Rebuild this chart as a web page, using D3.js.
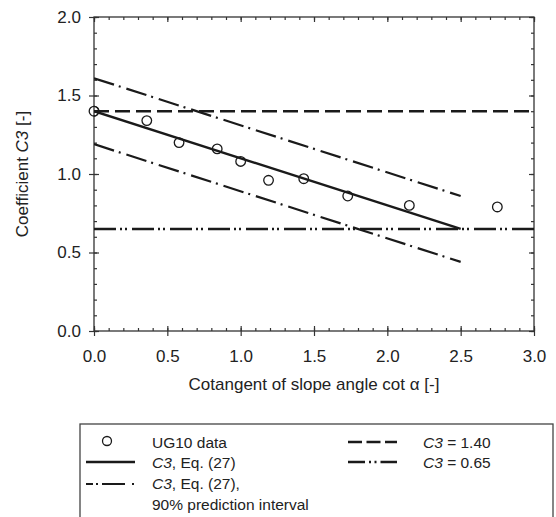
<!DOCTYPE html>
<html>
<head>
<meta charset="utf-8">
<script src="https://cdn.jsdelivr.net/npm/d3@7"></script>
<style>
  html, body { margin: 0; padding: 0; background: #fff; }
  svg { display: block; font-family: "Liberation Sans", Arial, Helvetica, sans-serif; }
</style>
</head>
<body>
<svg id="chart" width="556" height="517"></svg>
<script>
// ---- data ----
const cotAlpha = [0.00, 0.36, 0.58, 0.84, 1.00, 1.19, 1.43, 1.73, 2.15, 2.75];
const c3Data   = [1.40, 1.34, 1.20, 1.16, 1.08, 0.96, 0.97, 0.86, 0.80, 0.79];
const fitX     = [0.0, 2.5];
const fitY     = [1.40, 0.65];
const upperY   = [1.61, 0.86];
const lowerY   = [1.19, 0.44];
const hLineX   = [0.0, 3.0];
const c3Upper  = [1.40, 1.40];
const c3Lower  = [0.65, 0.65];
const xTickVals = [0.0, 0.5, 1.0, 1.5, 2.0, 2.5, 3.0];
const yTickVals = [0.0, 0.5, 1.0, 1.5, 2.0];
const xMinor = d3.range(0, 31).map(d => d / 10);
const yMinor = d3.range(0, 21).map(d => d / 10);

const svg = d3.select("#chart");
const L = 94, R = 534, T = 17, B = 331;
const x = d3.scaleLinear().domain([0, 3]).range([L, R]);
const y = d3.scaleLinear().domain([0, 2]).range([B, T]);
const ink = "#1a1a1a";
const axisInk = "#333";

svg.append("defs").append("clipPath").attr("id", "clip")
  .append("rect").attr("x", L).attr("y", T).attr("width", R - L).attr("height", B - T);

// ---- axes ----
function styleAxis(g) {
  g.select(".domain").remove();
  g.selectAll(".tick line").attr("stroke", axisInk).attr("stroke-width", 1.2);
  g.selectAll(".tick text").attr("fill", "#222").style("font-size", "17px")
    .style("font-family", "'Liberation Sans', Arial, sans-serif");
}
// bottom: minor inward, major both sides
svg.append("g").attr("transform", `translate(0,${B})`)
  .call(d3.axisBottom(x).tickValues(xMinor).tickSizeInner(-3).tickSizeOuter(0).tickFormat(""))
  .call(styleAxis);
svg.append("g").attr("transform", `translate(0,${B})`)
  .call(d3.axisBottom(x).tickValues(xTickVals).tickSizeInner(-5).tickSizeOuter(0).tickFormat(""))
  .call(styleAxis);
svg.append("g").attr("transform", `translate(0,${B})`)
  .call(d3.axisBottom(x).tickValues(xTickVals).tickSizeInner(5).tickSizeOuter(0).tickPadding(14).tickFormat(d3.format(".1f")))
  .call(styleAxis);
// left
svg.append("g").attr("transform", `translate(${L},0)`)
  .call(d3.axisLeft(y).tickValues(yMinor).tickSizeInner(-3).tickSizeOuter(0).tickFormat(""))
  .call(styleAxis);
svg.append("g").attr("transform", `translate(${L},0)`)
  .call(d3.axisLeft(y).tickValues(yTickVals).tickSizeInner(-5).tickSizeOuter(0).tickFormat(""))
  .call(styleAxis);
svg.append("g").attr("transform", `translate(${L},0)`)
  .call(d3.axisLeft(y).tickValues(yTickVals).tickSizeInner(5).tickSizeOuter(0).tickPadding(8).tickFormat(d3.format(".1f")))
  .call(styleAxis);
// top
svg.append("g").attr("transform", `translate(0,${T})`)
  .call(d3.axisTop(x).tickValues(xMinor).tickSizeInner(-3).tickSizeOuter(0).tickFormat(""))
  .call(styleAxis);
svg.append("g").attr("transform", `translate(0,${T})`)
  .call(d3.axisTop(x).tickValues(xTickVals).tickSizeInner(-5).tickSizeOuter(0).tickFormat(""))
  .call(styleAxis);
// right
svg.append("g").attr("transform", `translate(${R},0)`)
  .call(d3.axisRight(y).tickValues(yMinor).tickSizeInner(-3).tickSizeOuter(0).tickFormat(""))
  .call(styleAxis);
svg.append("g").attr("transform", `translate(${R},0)`)
  .call(d3.axisRight(y).tickValues(yTickVals).tickSizeInner(-5).tickSizeOuter(0).tickFormat(""))
  .call(styleAxis);

// frame
svg.append("rect").attr("x", L).attr("y", T).attr("width", R - L).attr("height", B - T)
  .attr("fill", "none").attr("stroke", axisInk).attr("stroke-width", 1.3);

// ---- lines ----
const line = d3.line().x(d => x(d[0])).y(d => y(d[1]));
const plot = svg.append("g").attr("clip-path", "url(#clip)");
function addLine(xs, ys, dash, w) {
  plot.append("path").datum(xs.map((v, i) => [v, ys[i]]))
    .attr("d", line).attr("fill", "none").attr("stroke", ink)
    .attr("stroke-width", w).attr("stroke-dasharray", dash);
}
addLine(hLineX, c3Upper, "15,6", 2.6);
addLine(hLineX, c3Lower, "22,4,2,3,2,5", 2.4);
addLine(fitX, upperY, "21,5,2,6", 2.2);
addLine(fitX, lowerY, "21,5,2,6", 2.2);
addLine(fitX, fitY, null, 2.4);

// points
plot.selectAll("circle.pt").data(cotAlpha.map((v, i) => [v, c3Data[i]]))
  .join("circle").attr("class", "pt")
  .attr("cx", d => x(d[0])).attr("cy", d => y(d[1])).attr("r", 4.8)
  .attr("fill", "none").attr("stroke", ink).attr("stroke-width", 1.3);
// first point sits on the frame edge: draw it outside clip too
svg.append("circle").attr("cx", x(cotAlpha[0])).attr("cy", y(c3Data[0])).attr("r", 4.8)
  .attr("fill", "none").attr("stroke", ink).attr("stroke-width", 1.3);

// ---- axis titles ----
const xt = svg.append("text").attr("x", (L + R) / 2).attr("y", 390)
  .attr("text-anchor", "middle").attr("fill", "#222").style("font-size", "17px");
xt.text("Cotangent of slope angle cot \u03b1 [-]");

const yt = svg.append("text").attr("transform", `translate(28,${(T + B) / 2}) rotate(-90)`)
  .attr("text-anchor", "middle").attr("fill", "#222").style("font-size", "17px");
yt.append("tspan").text("Coefficient ");
yt.append("tspan").style("font-style", "italic").text("C3");
yt.append("tspan").text(" [-]");

// ---- legend ----
const lg = svg.append("g");
lg.append("rect").attr("x", 80).attr("y", 424).attr("width", 473).attr("height", 130)
  .attr("fill", "#fff").attr("stroke", "#444").attr("stroke-width", 1.3);
const fs = "15.5px";
function legText(xp, yp, parts) {
  const t = lg.append("text").attr("x", xp).attr("y", yp).attr("fill", "#222").style("font-size", fs);
  parts.forEach(p => t.append("tspan").style("font-style", p[1] ? "italic" : "normal").text(p[0]));
}
lg.append("circle").attr("cx", 107).attr("cy", 441).attr("r", 4.5)
  .attr("fill", "none").attr("stroke", ink).attr("stroke-width", 1.3);
legText(152, 447.5, [["UG10 data", false]]);
lg.append("line").attr("x1", 86).attr("x2", 135).attr("y1", 462).attr("y2", 462)
  .attr("stroke", ink).attr("stroke-width", 2.4);
legText(152, 468, [["C3", true], [", Eq. (27)", false]]);
lg.append("line").attr("x1", 86).attr("x2", 135).attr("y1", 484).attr("y2", 484)
  .attr("stroke", ink).attr("stroke-width", 2.2).attr("stroke-dasharray", "7,3,2,4,23,7,2,20");
legText(152, 488.5, [["C3", true], [", Eq. (27),", false]]);
legText(152, 509.5, [["90% prediction interval", false]]);

lg.append("line").attr("x1", 348).attr("x2", 397).attr("y1", 442).attr("y2", 442)
  .attr("stroke", ink).attr("stroke-width", 2.6).attr("stroke-dasharray", "14,4.5");
legText(423, 447.5, [["C3", true], [" = 1.40", false]]);
lg.append("line").attr("x1", 348).attr("x2", 397).attr("y1", 462).attr("y2", 462)
  .attr("stroke", ink).attr("stroke-width", 2.4).attr("stroke-dasharray", "17,4,2,3.5,2,4,17");
legText(423, 468, [["C3", true], [" = 0.65", false]]);
</script>
</body>
</html>
